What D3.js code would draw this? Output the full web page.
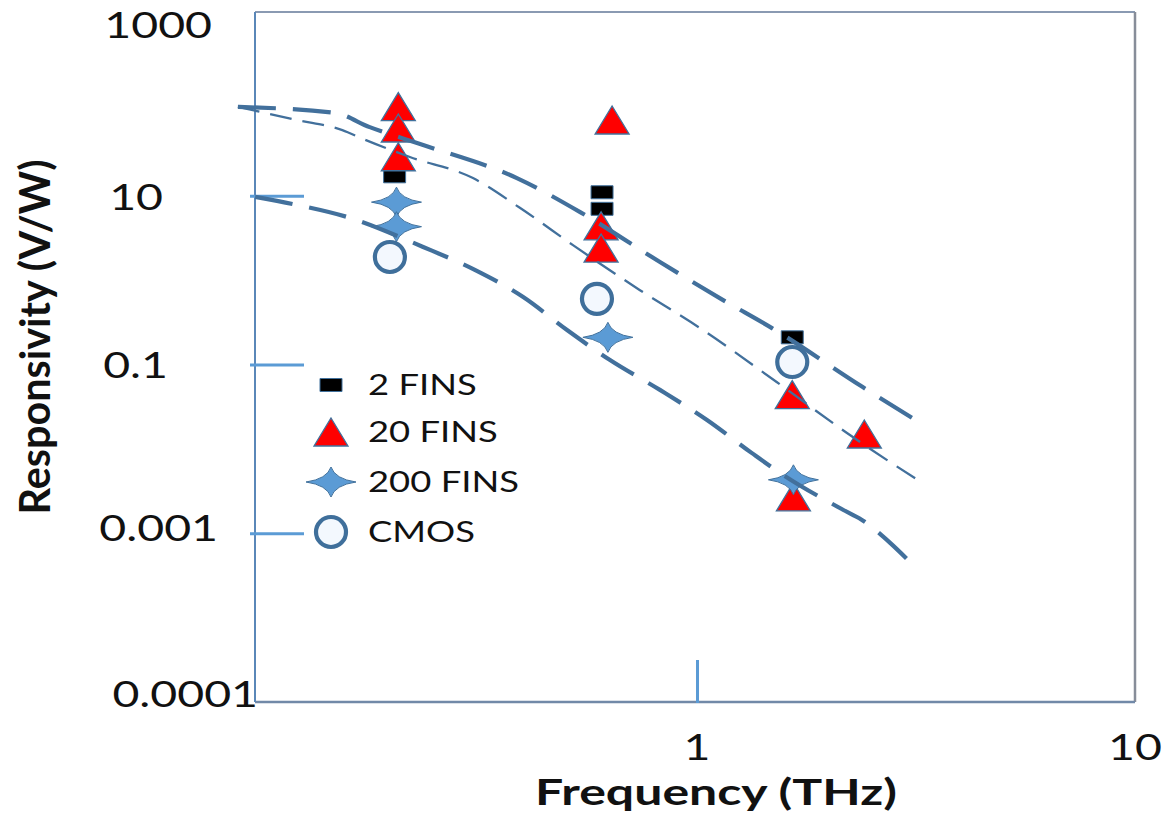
<!DOCTYPE html>
<html>
<head>
<meta charset="utf-8">
<script src="https://cdn.jsdelivr.net/npm/d3@7"></script>
<style>
  body { margin: 0; background: #fff; }
  text { font-family: Lato, "Open Sans", sans-serif; fill: #111; }
  .fit { fill: none; stroke: #42709c; stroke-width: 4.2; stroke-dasharray: 38 17; }
  .fit.thin { stroke-width: 2.3; stroke-dasharray: 22 11; }
  .tick line { stroke: #5b9bd5; stroke-width: 3; }
</style>
</head>
<body>
<svg id="chart" width="1162" height="814"></svg>
<script>
// axis ticks (the last label reads 0.0001 in the original, though it sits one decade lower)
const yTickValues = [1000, 10, 0.1, 0.001, 0.00001];
const yTickLabels = ["1000", "10", "0.1", "0.001", "0.0001"];
const yTickMarks = [10, 0.1, 0.001];
const xTickValues = [1, 10];
const xTickLabels = ["1", "10"];

// measured points, frequency in THz, responsivity in V/W
const fins2Freq = [0.204, 0.607, 0.607, 1.65];
const fins2Resp = [17, 11, 7.0, 0.21];
const fins20Freq = [0.208, 0.208, 0.208, 0.64, 0.604, 0.604, 1.65, 2.41, 1.66];
const fins20Resp = [114, 63.5, 29, 79, 4.4, 2.4, 0.044, 0.015, 0.0027];
const fins200Freq = [0.206, 0.206, 0.626, 1.66];
const fins200Resp = [8.4, 4.3, 0.21, 0.0043];
const cmosFreq = [0.199, 0.591, 1.65];
const cmosResp = [1.88, 0.6, 0.107];

// dashed guide curves
const fitAFreq = [0.0895, 0.149, 0.179, 0.237, 0.388, 0.541, 0.823, 1.147, 1.483, 2.39, 3.11];
const fitAResp = [113, 96, 65, 40, 16.2, 6.4, 1.64, 0.58, 0.27, 0.054, 0.023];
const fitBFreq = [0.0895, 0.122, 0.155, 0.173, 0.221, 0.308, 0.394, 0.521, 0.741, 1.016, 1.52, 2.2, 3.28];
const fitBResp = [113, 79, 60, 47, 28.8, 16.2, 7.2, 2.6, 0.76, 0.27, 0.062, 0.0154, 0.0039];
const fitCFreq = [0.098, 0.122, 0.159, 0.237, 0.311, 0.401, 0.505, 0.633, 0.823, 1.054, 1.335, 1.547, 2.154, 2.38, 2.76, 3.06];
const fitCResp = [9.7, 7.8, 5.6, 2.47, 1.32, 0.63, 0.256, 0.113, 0.05, 0.022, 0.0089, 0.0052, 0.0019, 0.00144, 0.00077, 0.00046];

const legendNames = ["2 FINS", "20 FINS", "200 FINS", "CMOS"];

const box = { left: 255, top: 12, right: 1135, bottom: 702 };
const svg = d3.select("#chart");

let x = d3.scaleLog().domain([0.1, 10]).range([259, 1135]);
let y = d3.scaleLog().domain([0.00001, 1000]).range([702, 27]);

// marker shapes, a bit wider than tall like the original
const squareType = { draw(c) { c.rect(-11, -6.5, 22, 13); } };
const triangleType = { draw(c) { c.moveTo(0, -14); c.lineTo(17, 14); c.lineTo(-17, 14); c.closePath(); } };
const starType = { draw(c) {
  c.moveTo(0, -15);
  c.quadraticCurveTo(4, -3, 25, 0);
  c.quadraticCurveTo(4, 3, 0, 15);
  c.quadraticCurveTo(-4, 3, -25, 0);
  c.quadraticCurveTo(-4, -3, 0, -15);
  c.closePath();
} };
const circleType = { draw(c) { c.ellipse ? c.ellipse(0, 0, 17, 14.5, 0, 0, 2 * Math.PI) : c.arc(0, 0, 15, 0, 2 * Math.PI); } };

const series = [
  { name: legendNames[0], freq: fins2Freq, resp: fins2Resp, type: squareType, fill: "#000", stroke: "#41719c", sw: 1 },
  { name: legendNames[1], freq: fins20Freq, resp: fins20Resp, type: triangleType, fill: "#f00", stroke: "#41719c", sw: 1.3 },
  { name: legendNames[2], freq: fins200Freq, resp: fins200Resp, type: starType, fill: "#5b9bd5", stroke: "#41719c", sw: 1 },
  { name: legendNames[3], freq: cmosFreq, resp: cmosResp, type: circleType, fill: "#f3f8fe", stroke: "#3f6f9b", sw: 4.2 }
];

// plot frame
svg.append("line").attr("x1", box.left).attr("x2", box.right).attr("y1", box.top).attr("y2", box.top)
  .attr("stroke", "#8a9ab2").attr("stroke-width", 2);
svg.append("line").attr("x1", box.right).attr("x2", box.right).attr("y1", box.top).attr("y2", box.bottom)
  .attr("stroke", "#878d99").attr("stroke-width", 2.5);
svg.append("line").attr("x1", box.left).attr("x2", box.right).attr("y1", box.bottom).attr("y2", box.bottom)
  .attr("stroke", "#7189a8").attr("stroke-width", 2.5);
svg.append("line").attr("x1", box.left).attr("x2", box.left).attr("y1", box.top).attr("y2", box.bottom)
  .attr("stroke", "#5a87b8").attr("stroke-width", 2);

// short tick marks that cross the axes
let yAxis = svg.append("g").attr("transform", "translate(250,0)")
  .call(d3.axisLeft(y).tickValues(yTickMarks).tickSize(-54).tickFormat(""));
yAxis.select(".domain").remove();
let xAxis = svg.append("g").attr("transform", "translate(0," + (box.bottom + 1) + ")")
  .call(d3.axisBottom(x).tickValues([1]).tickSize(-43).tickFormat(""));
xAxis.select(".domain").remove();

// markers
series.forEach((s) => {
  let pts = s.freq.map((f, i) => ({ f: f, r: s.resp[i] }));
  svg.append("g").selectAll("path").data(pts).join("path")
    .attr("d", d3.symbol().type(s.type))
    .attr("transform", (d) => "translate(" + x(d.f) + "," + y(d.r) + ")")
    .attr("fill", s.fill).attr("stroke", s.stroke).attr("stroke-width", s.sw);
});

// dashed curves on top of markers
let line = d3.line().curve(d3.curveMonotoneX)
  .x((d) => x(d[0]))
  .y((d) => y(d[1]));
svg.append("path").datum(d3.zip(fitBFreq, fitBResp)).attr("class", "fit thin").attr("d", line);
svg.append("path").datum(d3.zip(fitAFreq, fitAResp)).attr("class", "fit").attr("d", line);
svg.append("path").datum(d3.zip(fitCFreq, fitCResp)).attr("class", "fit").attr("d", line);

// legend
const legendY = [385, 432, 482, 532];
let legend = svg.append("g");
series.forEach((s, i) => {
  legend.append("path").attr("d", d3.symbol().type(s.type))
    .attr("transform", "translate(331," + legendY[i] + ")")
    .attr("fill", s.fill).attr("stroke", s.stroke).attr("stroke-width", s.sw);
  legend.append("text").attr("transform", "translate(368," + (legendY[i] + 10) + ") scale(1.3,1)")
    .attr("font-size", 28).text(s.name);
});

// y tick labels, each one sits at its own place in the original
const yLabelRight = [212, 163, 168, 218, 258];
const yLabelNudge = [-2, 1, 0, -5, -8];
yTickValues.forEach((v, i) => {
  svg.append("text")
    .attr("transform", "translate(" + yLabelRight[i] + "," + (y(v) + yLabelNudge[i] + 13) + ") scale(1.29,1)")
    .attr("text-anchor", "end").attr("font-size", 36).text(yTickLabels[i]);
});

// x tick labels
xTickValues.forEach((v, i) => {
  svg.append("text")
    .attr("transform", "translate(" + x(v) + ",760) scale(1.29,1)")
    .attr("text-anchor", "middle").attr("font-size", 36).text(xTickLabels[i]);
});

// axis titles
svg.append("text").attr("x", 716).attr("y", 805).attr("text-anchor", "middle")
  .attr("font-size", 37).attr("font-weight", "bold")
  .attr("textLength", 362).attr("lengthAdjust", "spacingAndGlyphs")
  .text("Frequency (THz)");
svg.append("text").attr("transform", "translate(50,337) rotate(-90) scale(1,1.2)")
  .attr("text-anchor", "middle").attr("font-size", 35).attr("font-weight", "bold")
  .attr("textLength", 355).attr("lengthAdjust", "spacingAndGlyphs")
  .text("Responsivity (V/W)");
</script>
</body>
</html>
